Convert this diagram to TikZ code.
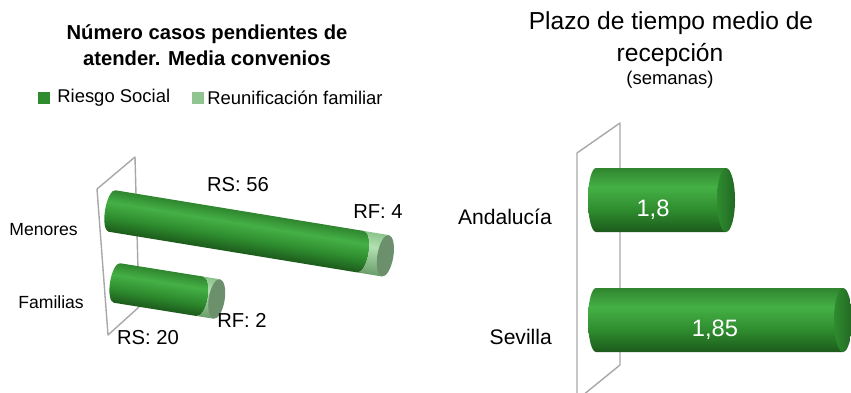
\documentclass[tikz,border=0pt]{standalone}
\usepackage{fontspec}
\setmainfont{Liberation Sans}
\usepackage{tikz}
\usetikzlibrary{calc}
\usepackage{xcolor}
\definecolor{gdark}{HTML}{1C5A1C}
\definecolor{gmid}{HTML}{2E8C2E}
\definecolor{gbright}{HTML}{45B045}
\definecolor{gtop}{HTML}{2F862F}
\definecolor{gend}{HTML}{236823}
\definecolor{ldark}{HTML}{6A9E6A}
\definecolor{lbright}{HTML}{B2E0B2}
\definecolor{ltop}{HTML}{8CC48C}
\definecolor{lend}{HTML}{6C8F6C}
\definecolor{legdark}{HTML}{2E8B2E}
\definecolor{leglight}{HTML}{90C490}
\definecolor{wallgray}{HTML}{A8A8A8}
\pgfdeclareverticalshading{cylgreen}{100bp}{color(0bp)=(gdark); color(25bp)=(gdark); color(42bp)=(gmid); color(60bp)=(gbright); color(75bp)=(gtop); color(100bp)=(gtop)}
\pgfdeclareverticalshading{cyllight}{100bp}{color(0bp)=(ldark); color(25bp)=(ldark); color(58bp)=(lbright); color(75bp)=(ltop); color(100bp)=(ltop)}
\tikzset{wall/.style={draw=wallgray, thick, line join=round},
	barlabel/.style={font=\fontsize{11.5}{13}\selectfont},
	catlabel/.style={font=\fontsize{10}{12}\selectfont},
	ticklabel/.style={font=\fontsize{12}{14}\selectfont}}

\begin{document}
\begin{tikzpicture}[x=0.02cm,y=-0.02cm]
			\useasboundingbox (0,0) rectangle (851,392);
			% left chart title and legend
			\node[align=center, font=\bfseries\fontsize{11.5}{14.8}\selectfont] (ltitle) at (207,45) {Número casos pendientes de\\atender. Media convenios};
			\fill[legdark] (38,92) rectangle (50,104);
			\node[anchor=west, inner sep=0, font=\fontsize{10.5}{12}\selectfont] (legrs) at (57,98) {Riesgo Social};
			\fill[leglight] (192,92) rectangle (204,104);
			\node[anchor=west, inner sep=0, font=\fontsize{10.5}{12}\selectfont] (legrf) at (207,98) {Reunificación familiar};
			% left wall
			\draw[wall] (135,157) -- (97,189) -- (108,335) -- (139,307) -- cycle;
			% Menores bar
			\begin{scope}[transform canvas={shift={(112,211)}, rotate=-9.3}]
				\shade[shading=cylgreen] (252,21) -- (0,21) arc[start angle=90, end angle=270, x radius=7, y radius=21] -- (252,-21) arc[start angle=-90, end angle=90, x radius=8, y radius=21] -- cycle;
				\shade[shading=cyllight] (277,-21) -- (252,-21) arc[start angle=-90, end angle=90, x radius=8, y radius=21] -- (277,21) -- cycle;
				\fill[lend] (277,0) ellipse[x radius=8, y radius=21];
			\end{scope}
			% Familias bar
			\begin{scope}[transform canvas={shift={(117,283)}, rotate=-9.1}]
				\shade[shading=cylgreen] (84,20) -- (0,20) arc[start angle=90, end angle=270, x radius=7, y radius=20] -- (84,-20) arc[start angle=-90, end angle=90, x radius=8, y radius=20] -- cycle;
				\shade[shading=cyllight] (101,-20) -- (84,-20) arc[start angle=-90, end angle=90, x radius=8, y radius=20] -- (101,20) -- cycle;
				\fill[lend] (101,0) ellipse[x radius=8, y radius=20];
			\end{scope}
			\node[catlabel, anchor=east] (menores) at (84,230) {Menores};
			\node[catlabel, anchor=east] (familias) at (90,302) {Familias};
			\node[barlabel] (rs56) at (238,185) {RS: 56};
			\node[barlabel] (rf4) at (378,212) {RF: 4};
			\node[barlabel] (rf2) at (242,320) {RF: 2};
			\node[barlabel] (rs20) at (148,338) {RS: 20};
			% right chart title
			\node[font=\fontsize{14}{16}\selectfont] (rtitle) at (671,23) {Plazo de tiempo medio de};
			\node[font=\fontsize{14}{16}\selectfont] (rtitle2) at (670,55) {recepción};
			\node[font=\fontsize{10.5}{12}\selectfont] (rsub) at (670,80) {(semanas)};
			% right wall
			\draw[wall] (620,123) -- (577,153) -- (577,400) -- (620,365) -- cycle;
			% Andalucia bar
			\shade[shading=cylgreen] (726,168) -- (596,168) arc[start angle=270, end angle=90, x radius=8, y radius=32] -- (726,232) -- cycle;
			\shade[left color=gmid, right color=gend] (726,200) ellipse[x radius=9, y radius=32];
			% Sevilla bar
			\shade[shading=cylgreen] (843,288) -- (596,288) arc[start angle=270, end angle=90, x radius=8, y radius=32] -- (843,352) -- cycle;
			\shade[left color=gmid, right color=gend] (843,320) ellipse[x radius=9, y radius=32];
			\node[font=\fontsize{13.5}{15}\selectfont, text=white] (v18) at (653,210) {1,8};
			\node[font=\fontsize{13.5}{15}\selectfont, text=white] (v185) at (715,330) {1,85};
			\node[ticklabel, anchor=east] (andalucia) at (558,217) {Andalucía};
			\node[ticklabel, anchor=east] (sevilla) at (558,337) {Sevilla};
		\end{tikzpicture}
\end{document}
